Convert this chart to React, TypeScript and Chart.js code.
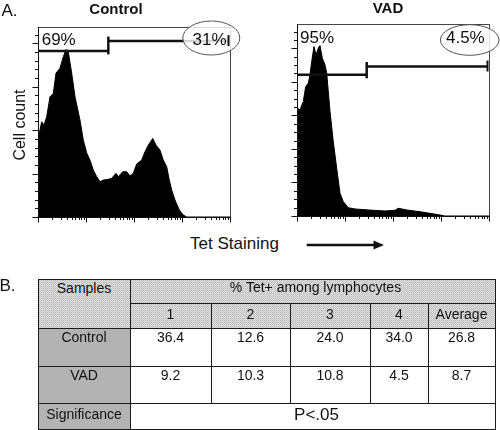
import React, { useEffect, useRef } from 'react';
import { Chart, registerables } from 'chart.js';

Chart.register(...registerables);

const FONT = '"Liberation Sans", Arial, Helvetica, sans-serif';

// ---------- Histogram data (x = log10 fluorescence, decades 0..4; y = cell count) ----------
const controlX = [0, 0.006, 0.077, 0.125, 0.181, 0.25, 0.319, 0.375, 0.458, 0.527, 0.583, 0.631, 0.702, 0.771, 0.875, 0.944, 1.015, 1.083, 1.152, 1.223, 1.292, 1.36, 1.465, 1.535, 1.625, 1.673, 1.765, 1.848, 1.917, 1.985, 2.056, 2.16, 2.229, 2.298, 2.39, 2.458, 2.542, 2.61, 2.681, 2.735, 2.785, 2.854, 2.944, 3.027, 3.098, 4];
const controlY = [72, 72.7, 87.7, 84.6, 92.3, 110.7, 113.8, 132.5, 137.1, 147.5, 154.3, 152.1, 132.5, 110.7, 89.2, 70.8, 58.9, 52.4, 43.2, 37.1, 32.5, 34.0, 34.7, 35.6, 40.2, 37.1, 41.7, 41.7, 37.7, 40.2, 48.8, 52.4, 60.1, 66.2, 72.4, 66.2, 61.6, 52.4, 46.3, 34.0, 24.8, 15.6, 6.4, 1.8, 0, 0];

const vadX = [0, 0.006, 0.0625, 0.131, 0.181, 0.235, 0.271, 0.306, 0.354, 0.396, 0.444, 0.479, 0.527, 0.583, 0.619, 0.688, 0.756, 0.827, 0.896, 0.965, 1.069, 1.208, 1.485, 1.833, 2.042, 2.11, 2.285, 2.5625, 2.77, 2.98, 3.083, 4];
const vadY = [128, 128.6, 126.6, 136.5, 154.4, 158.4, 168.4, 184.2, 202.1, 192.2, 200.2, 203.3, 188.3, 180.3, 170.4, 124.5, 88.7, 57.0, 27.1, 17.1, 9.9, 8.4, 7.2, 6.0, 6.8, 9.2, 7.2, 5.1, 3.2, 1.2, 0, 0];

// gates: [left gate level, right gate level], split position (decades)
const controlGateLevels = [153, 162];
const controlGateSplit = 1.465;
const vadGateLevels = [168.4, 178.3];
const vadGateSplit = 1.452;

const controlPercents = ['69%', '31%'];
const vadPercents = ['95%', '4.5%'];

// axis scales
const xDecades = [0, 1, 2, 3, 4];
const xMinorMultipliers = [2, 3, 4, 5, 6, 7, 8, 9];
const controlYMax = 175;
const controlYMajor = 40;
const controlYMinor = 8;
const vadYMax = 229;
const vadYMajor = 40;
const vadYMinor = 10;

// ---------- Table data ----------
const tableSampleLabels = ['1', '2', '3', '4', 'Average'];
const tableControlValues = [36.4, 12.6, 24.0, 34.0, 26.8];
const tableVadValues = [9.2, 10.3, 10.8, 4.5, 8.7];
const tableRowLabels = ['Control', 'VAD', 'Significance'];
const tableHeader = ['Samples', '% Tet+ among lymphocytes'];
const tableSignificance = 'P<.05';

const flowDecor = {
  id: 'flowDecor',
  afterDatasetsDraw(chart: any, _args: any, o: any) {
    const { ctx, chartArea: a, scales } = chart;
    const xs = scales.x;
    const ys = scales.y;
    const line = (x1: number, y1: number, x2: number, y2: number) => {
      ctx.beginPath();
      ctx.moveTo(x1, y1);
      ctx.lineTo(x2, y2);
      ctx.stroke();
    };
    ctx.save();
    // frame (top/right thin)
    ctx.strokeStyle = '#444';
    ctx.lineWidth = 1;
    line(a.left, a.top + 0.5, a.right + 0.5, a.top + 0.5);
    line(a.right + 0.5, a.top, a.right + 0.5, a.bottom);
    // axes
    ctx.strokeStyle = '#111';
    line(a.left + 0.5, a.top, a.left + 0.5, a.bottom + 0.5);
    line(a.left, a.bottom + 0.5, a.right + 1, a.bottom + 0.5);
    // x ticks (log decades)
    ctx.lineWidth = 1;
    xDecades.forEach((d: number) => {
      const px = Math.round(xs.getPixelForValue(d)) + 0.5;
      line(px, a.bottom, px, a.bottom + 5.5);
      if (d < xDecades[xDecades.length - 1]) {
        xMinorMultipliers.forEach((m: number) => {
          const mx = Math.round(xs.getPixelForValue(d + Math.log10(m))) + 0.5;
          line(mx, a.bottom, mx, a.bottom + 3);
        });
      }
    });
    // y ticks
    const per = Math.round(o.yMajor / o.yMinor);
    for (let i = 0; i * o.yMinor <= o.yMax; i++) {
      const py = Math.round(ys.getPixelForValue(i * o.yMinor)) + 0.5;
      const len = i % per === 0 ? 5.5 : 3;
      line(a.left - len, py, a.left, py);
    }
    // gates
    const gy1 = ys.getPixelForValue(o.levels[0]);
    const gy2 = ys.getPixelForValue(o.levels[1]);
    const sx = xs.getPixelForValue(o.split);
    ctx.strokeStyle = '#111';
    ctx.lineWidth = 2.5;
    line(a.left, gy1, sx, gy1);
    line(sx, gy1 + 3.5, sx, gy2 - 4.5);
    line(sx, gy2, a.right - 1, gy2);
    // ellipse fill (whitens what lies beneath)
    const e = o.ellipse;
    ctx.fillStyle = 'rgba(255,255,255,0.82)';
    ctx.beginPath();
    ctx.ellipse(a.right + e[0], a.top + e[1], e[2], e[3], 0, 0, Math.PI * 2);
    ctx.fill();
    // right gate end tick
    ctx.lineWidth = 2;
    line(a.right - 1.5, gy2 - 6, a.right - 1.5, gy2 + 5);
    // labels
    ctx.fillStyle = '#111';
    ctx.font = `17px ${FONT}`;
    ctx.textBaseline = 'alphabetic';
    ctx.textAlign = 'left';
    ctx.fillText(o.labels[0], a.left + o.labelInset[0], a.top + o.labelBase);
    ctx.textAlign = 'right';
    ctx.fillText(o.labels[1], a.right - o.labelInset[1], a.top + o.labelBase);
    // ellipse stroke
    ctx.strokeStyle = '#555';
    ctx.lineWidth = 1;
    ctx.beginPath();
    ctx.ellipse(a.right + e[0], a.top + e[1], e[2], e[3], 0, 0, Math.PI * 2);
    ctx.stroke();
    ctx.restore();
  },
};

type HistProps = {
  xs: number[];
  ys: number[];
  yMax: number;
  yMajor: number;
  yMinor: number;
  levels: number[];
  split: number;
  labels: string[];
  padding: { left: number; top: number; right: number; bottom: number };
  labelInset: number[];
  labelBase: number;
  ellipse: number[];
  left: number;
};

function Histogram(p: HistProps) {
  const ref = useRef<HTMLCanvasElement | null>(null);
  useEffect(() => {
    if (!ref.current) return;
    const chart = new Chart(ref.current, {
      type: 'line',
      data: {
        datasets: [
          {
            data: p.xs.map((x, i) => ({ x, y: p.ys[i] })),
            fill: 'origin',
            backgroundColor: '#000',
            borderColor: '#000',
            borderWidth: 1,
            pointRadius: 0,
            tension: 0,
          },
        ],
      },
      options: {
        animation: false,
        responsive: false,
        maintainAspectRatio: false,
        events: [],
        layout: { padding: p.padding },
        scales: {
          x: { type: 'linear', min: 0, max: 4, display: false },
          y: { type: 'linear', min: 0, max: p.yMax, display: false },
        },
        plugins: {
          legend: { display: false },
          tooltip: { enabled: false },
          title: { display: false },
          flowDecor: {
            yMax: p.yMax,
            yMajor: p.yMajor,
            yMinor: p.yMinor,
            levels: p.levels,
            split: p.split,
            labels: p.labels,
            labelInset: p.labelInset,
            labelBase: p.labelBase,
            ellipse: p.ellipse,
          },
        } as any,
      },
      plugins: [flowDecor as any],
    });
    return () => chart.destroy();
  }, []);
  return (
    <canvas
      ref={ref}
      width={250}
      height={232}
      style={{ position: 'absolute', left: p.left, top: 0, width: 250, height: 232 }}
    />
  );
}

// text helper: places text so its baseline lands at `baseline`
function T(props: { x: number; w: number; baseline: number; size: number; bold?: boolean; align?: 'left' | 'center'; children: React.ReactNode }) {
  const { x, w, baseline, size, bold, align = 'center', children } = props;
  return (
    <div
      style={{
        position: 'absolute',
        left: x,
        width: w,
        top: baseline - 0.8465 * size,
        fontSize: size,
        lineHeight: 1,
        fontWeight: bold ? 'bold' : 'normal',
        textAlign: align,
        whiteSpace: 'nowrap',
        color: '#111',
      }}
    >
      {children}
    </div>
  );
}

const colEdges = [38, 130, 211, 290, 370, 428, 495];
const rowEdges = [279, 303, 328, 366, 403, 429];
const headerBg =
  "#d2d2d2 url(\"data:image/svg+xml,%3Csvg xmlns='http://www.w3.org/2000/svg' width='2' height='2' shape-rendering='crispEdges'%3E%3Crect width='2' height='2' fill='%23e0e0e0'/%3E%3Crect width='1' height='1' fill='%23b9b9b9'/%3E%3Crect x='1' y='1' width='1' height='1' fill='%23c6c6c6'/%3E%3C/svg%3E\") repeat";
const labelBg = '#b3b3b3';

function Cell(props: { c0: number; c1: number; r0: number; r1: number; bg: string }) {
  const x0 = colEdges[props.c0];
  const x1 = colEdges[props.c1];
  const y0 = rowEdges[props.r0];
  const y1 = rowEdges[props.r1];
  return (
    <div
      style={{
        position: 'absolute',
        left: x0,
        top: y0,
        width: x1 - x0 + 1,
        height: y1 - y0 + 1,
        boxSizing: 'border-box',
        border: '1px solid #1a1a1a',
        background: props.bg,
      }}
    />
  );
}

function DataTable() {
  const tsize = 14;
  const cx = (c: number) => colEdges[c];
  const cw = (c: number) => colEdges[c + 1] - colEdges[c];
  const rowBase = [318.5, 341.5, 380];
  return (
    <>
      <Cell c0={0} c1={1} r0={0} r1={2} bg={headerBg} />
      <Cell c0={1} c1={6} r0={0} r1={1} bg={headerBg} />
      {tableSampleLabels.map((_, i) => (
        <Cell key={'h' + i} c0={i + 1} c1={i + 2} r0={1} r1={2} bg={headerBg} />
      ))}
      <Cell c0={0} c1={1} r0={2} r1={3} bg={labelBg} />
      <Cell c0={0} c1={1} r0={3} r1={4} bg={labelBg} />
      <Cell c0={0} c1={1} r0={4} r1={5} bg={labelBg} />
      {tableControlValues.map((_, i) => (
        <Cell key={'c' + i} c0={i + 1} c1={i + 2} r0={2} r1={3} bg="#fff" />
      ))}
      {tableVadValues.map((_, i) => (
        <Cell key={'v' + i} c0={i + 1} c1={i + 2} r0={3} r1={4} bg="#fff" />
      ))}
      <Cell c0={1} c1={6} r0={4} r1={5} bg="#fff" />

      <T x={cx(0)} w={cw(0)} baseline={293} size={tsize}>{tableHeader[0]}</T>
      <T x={colEdges[1] + 3} w={colEdges[6] - colEdges[1]} baseline={292} size={tsize}>{tableHeader[1]}</T>
      {tableSampleLabels.map((s, i) => (
        <T key={'hl' + i} x={cx(i + 1)} w={cw(i + 1)} baseline={rowBase[0]} size={tsize}>{s}</T>
      ))}
      <T x={cx(0)} w={cw(0)} baseline={rowBase[1]} size={tsize}>{tableRowLabels[0]}</T>
      <T x={cx(0)} w={cw(0)} baseline={rowBase[2]} size={tsize}>{tableRowLabels[1]}</T>
      <T x={cx(0)} w={cw(0)} baseline={418.5} size={tsize}>{tableRowLabels[2]}</T>
      {tableControlValues.map((v, i) => (
        <T key={'cv' + i} x={cx(i + 1)} w={cw(i + 1)} baseline={rowBase[1]} size={tsize}>{v.toFixed(1)}</T>
      ))}
      {tableVadValues.map((v, i) => (
        <T key={'vv' + i} x={cx(i + 1)} w={cw(i + 1)} baseline={rowBase[2]} size={tsize}>{v.toFixed(1)}</T>
      ))}
      <T x={colEdges[1] + 4} w={colEdges[6] - colEdges[1]} baseline={420} size={17}>{tableSignificance}</T>
    </>
  );
}

export default function App() {
  return (
    <div
      style={{
        position: 'absolute',
        left: 0,
        top: 0,
        width: 500,
        height: 430,
        overflow: 'hidden',
        background: '#fff',
        fontFamily: FONT,
        color: '#111',
      }}
    >
      <Histogram
        left={0}
        xs={controlX}
        ys={controlY}
        yMax={controlYMax}
        yMajor={controlYMajor}
        yMinor={controlYMinor}
        levels={controlGateLevels}
        split={controlGateSplit}
        labels={controlPercents}
        padding={{ left: 38, top: 27, right: 20, bottom: 15 }}
        labelInset={[3.7, 3.5]}
        labelBase={17.5}
        ellipse={[-18.7, 11, 28.5, 17]}
      />
      <Histogram
        left={250}
        xs={vadX}
        ys={vadY}
        yMax={vadYMax}
        yMajor={vadYMajor}
        yMinor={vadYMinor}
        levels={vadGateLevels}
        split={vadGateSplit}
        labels={vadPercents}
        padding={{ left: 47, top: 24, right: 11, bottom: 16 }}
        labelInset={[3, 4.3]}
        labelBase={19}
        ellipse={[-19.3, 16, 29.3, 15.3]}
      />

      <T x={1.5} w={40} baseline={16.7} size={17} align="left">A.</T>
      <T x={56} w={120} baseline={13.3} size={15} bold>Control</T>
      <T x={328} w={120} baseline={13} size={15} bold>VAD</T>
      <div
        style={{
          position: 'absolute',
          left: 20 - 60,
          top: 125 - 8,
          width: 120,
          height: 16,
          lineHeight: '16px',
          fontSize: 16,
          textAlign: 'center',
          whiteSpace: 'nowrap',
          transform: 'rotate(-90deg)',
        }}
      >
        Cell count
      </div>
      <T x={190} w={120} baseline={249} size={17} align="left">Tet Staining</T>
      <svg
        width={100}
        height={20}
        style={{ position: 'absolute', left: 300, top: 235 }}
      >
        <line x1={6.7} y1={10} x2={76} y2={10} stroke="#111" strokeWidth={2.5} />
        <polygon points="73.5,5.5 84,10 73.5,14.5" fill="#111" />
      </svg>

      <T x={-0.5} w={40} baseline={291.7} size={17} align="left">B.</T>
      <DataTable />
    </div>
  );
}
